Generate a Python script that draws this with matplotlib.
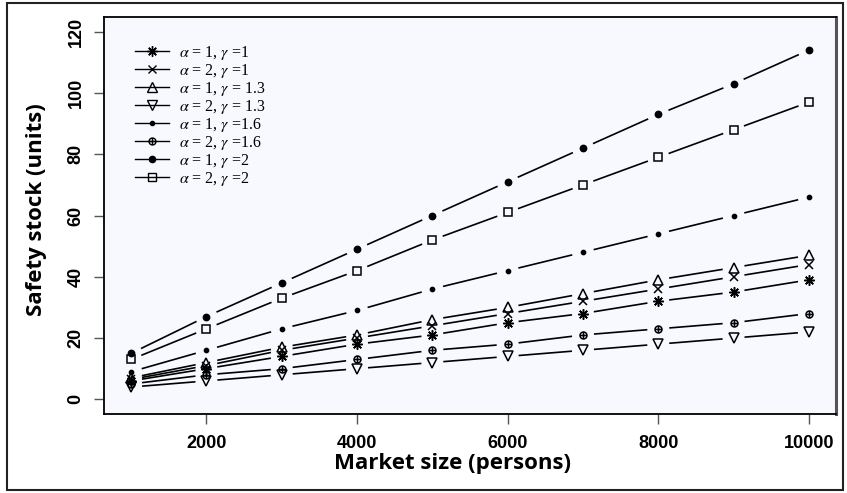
"""Safety stock vs. market size for several (alpha, gamma) settings."""

import matplotlib

matplotlib.use("Agg")

import matplotlib.pyplot as plt
import numpy as np
from matplotlib.lines import Line2D
from matplotlib.patches import Rectangle
from matplotlib.path import Path

# -- data ---------------------------------------------------------------------
market_size = [1000, 2000, 3000, 4000, 5000, 6000, 7000, 8000, 9000, 10000]

a1_g1 = [6, 10, 14, 18, 21, 25, 28, 32, 35, 39]
a2_g1 = [6.5, 11, 16, 20, 24, 28, 32, 36, 40, 44]
a1_g13 = [7, 12, 17, 21, 26, 30, 34.5, 39, 43, 47]
a2_g13 = [4, 6, 8, 10, 12, 14, 16, 18, 20, 22]
a1_g16 = [9, 16, 23, 29, 36, 42, 48, 54, 60, 66]
a2_g16 = [5, 8, 10, 13, 16, 18, 21, 23, 25, 28]
a1_g2 = [15, 27, 38, 49, 60, 71, 82, 93, 103, 114]
a2_g2 = [13, 23, 33, 42, 52, 61, 70, 79, 88, 97]

labels = [
    r"$\alpha$ = 1, $\gamma$ =1",
    r"$\alpha$ = 2, $\gamma$ =1",
    r"$\alpha$ = 1, $\gamma$ = 1.3",
    r"$\alpha$ = 2, $\gamma$ = 1.3",
    r"$\alpha$ = 1, $\gamma$ =1.6",
    r"$\alpha$ = 2, $\gamma$ =1.6",
    r"$\alpha$ = 1, $\gamma$ =2",
    r"$\alpha$ = 2, $\gamma$ =2",
]
series = [a1_g1, a2_g1, a1_g13, a2_g13, a1_g16, a2_g16, a1_g2, a2_g2]

# R-like plotting symbols
_circle_plus = Path.make_compound_path(
    Path.unit_circle(),
    Path([[-1, 0], [1, 0], [0, -1], [0, 1]],
         [Path.MOVETO, Path.LINETO, Path.MOVETO, Path.LINETO]),
)
_MARKERS = [
    {"marker": (8, 2, 0), "markersize": 7.5, "mfc": "black"},
    {"marker": "x", "markersize": 5.5, "mfc": "black"},
    {"marker": "^", "markersize": 6.5, "mfc": "none"},
    {"marker": "v", "markersize": 6.5, "mfc": "none"},
    {"marker": "o", "markersize": 3, "mfc": "black"},
    {"marker": _circle_plus, "markersize": 5, "mfc": "none"},
    {"marker": "o", "markersize": 4.5, "mfc": "black"},
    {"marker": "s", "markersize": 5.5, "mfc": "none"},
]

GAP_PX = 11  # R type="b": segments stop short of each point
LW = 1.2

plt.rcParams["mathtext.fontset"] = "stix"

fig = plt.figure(figsize=(8.47, 4.93), dpi=100)
fig.patch.set_facecolor("white")
ax = fig.add_axes([104 / 847, 79 / 493, 732 / 847, 397 / 493])
ax.set_facecolor("#F8F9FF")
ax.set_xlim(640, 10360)
ax.set_ylim(-4.8, 124.8)


def _gapped(x, y):
    """Line through (x, y) with a gap of GAP_PX pixels around each point."""
    pts = ax.transData.transform(np.column_stack([x, y]).astype(float))
    inv = ax.transData.inverted()
    xs, ys = [], []
    for p0, p1 in zip(pts[:-1], pts[1:]):
        d = p1 - p0
        u = d / np.hypot(*d)
        a, b = inv.transform(np.array([p0 + u * GAP_PX, p1 - u * GAP_PX]))
        xs += [a[0], b[0], np.nan]
        ys += [a[1], b[1], np.nan]
    return xs, ys


handles = []
for vals, label, mk in zip(series, labels, _MARKERS):
    gx, gy = _gapped(market_size, vals)
    ax.plot(gx, gy, color="black", lw=LW, solid_capstyle="butt")
    ax.plot(market_size, vals, ls="none", marker=mk["marker"],
            markersize=mk["markersize"], mfc=mk["mfc"], mec="black", mew=1.1)
    handles.append(Line2D([], [], color="black", lw=1.0, marker=mk["marker"],
                          markersize=mk["markersize"], mfc=mk["mfc"],
                          mec="black", mew=1.0, label=label))

ax.legend(handles=handles, loc="upper left", bbox_to_anchor=(0.042, 0.932),
          frameon=False, prop={"family": "Liberation Serif", "size": 11.5},
          numpoints=1, handlelength=2.15, handletextpad=0.6,
          labelspacing=0.0, borderpad=0, borderaxespad=0)

ax.set_xticks([2000, 4000, 6000, 8000, 10000])
ax.set_yticks([0, 20, 40, 60, 80, 100, 120])
ax.tick_params(axis="both", length=7, width=1, color="#555555",
               labelsize=13)
ax.tick_params(axis="x", pad=8)
ax.tick_params(axis="y", pad=7)
for lab in ax.get_xticklabels() + ax.get_yticklabels():
    lab.set_fontfamily("Liberation Sans")
    lab.set_fontweight("bold")
for lab in ax.get_yticklabels():
    lab.set_rotation(90)
    lab.set_va("center")

for side in ("left", "top", "bottom"):
    ax.spines[side].set_linewidth(1.3)
    ax.spines[side].set_color("black")
ax.spines["right"].set_linewidth(2.2)
ax.spines["right"].set_color("#555555")

ax.set_xlabel("Market size (persons)", fontfamily="Open Sans",
              fontweight="bold", fontsize=16)
ax.xaxis.set_label_coords((453 - 104) / 732, -(463 - 414) / 397)
ax.xaxis.label.set_va("center")
ax.set_ylabel("Safety stock (units)", fontfamily="Open Sans",
              fontweight="bold", fontsize=16)
ax.yaxis.set_label_coords(-(104 - 36) / 732, (414 - 210) / 397)
ax.yaxis.label.set_va("center")

# outer frame around the whole picture
fig.patches.append(Rectangle((7 / 847, 3 / 493), 836 / 847, 487 / 493,
                             transform=fig.transFigure, fill=False,
                             edgecolor="#222222", lw=1.5))

fig.savefig("out.png", dpi=100)
